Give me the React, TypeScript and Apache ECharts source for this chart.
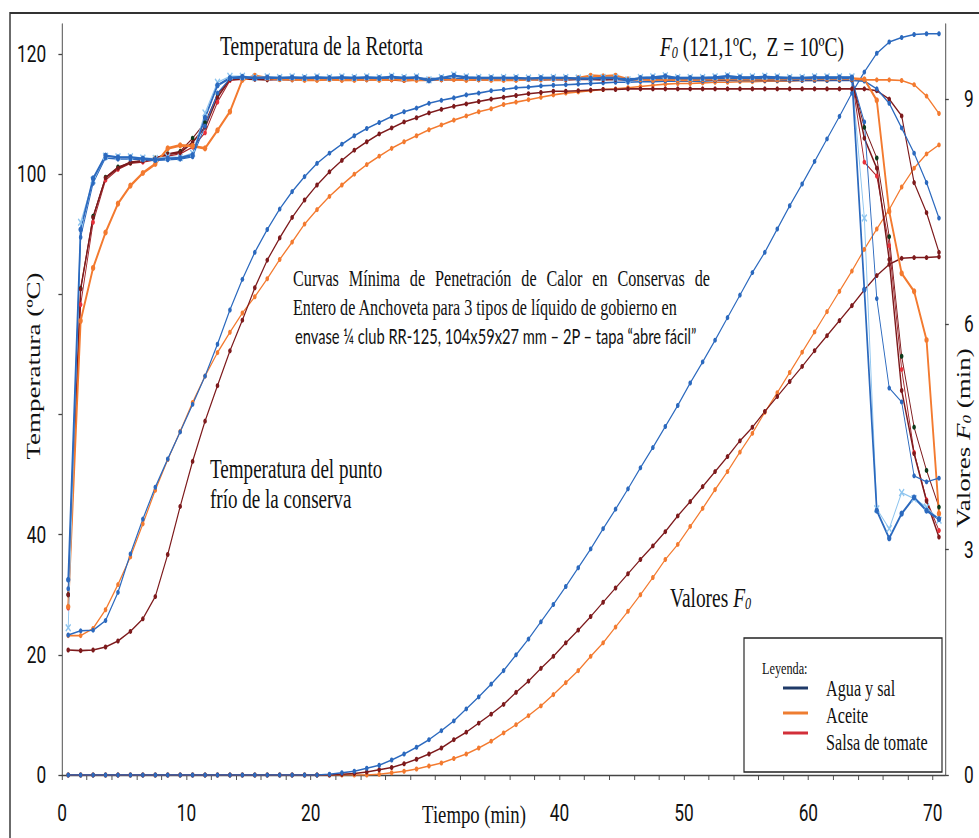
import React, { useEffect, useRef } from 'react';
import * as echarts from 'echarts';

// The reference picture is horizontally condensed; the chart is drawn wider and squeezed.
const SQ = 0.72;
const W = 979;
const H = 838;
const CW = W / SQ;
const rx = (x: number) => x / SQ;

// ---------- data ----------
const TIME = [
  0.5, 1.5, 2.5, 3.5, 4.5, 5.5, 6.5, 7.5, 8.5, 9.5,
  10.5, 11.5, 12.5, 13.5, 14.5, 15.5, 16.5, 17.5, 18.5, 19.5,
  20.5, 21.5, 22.5, 23.5, 24.5, 25.5, 26.5, 27.5, 28.5, 29.5,
  30.5, 31.5, 32.5, 33.5, 34.5, 35.5, 36.5, 37.5, 38.5, 39.5,
  40.5, 41.5, 42.5, 43.5, 44.5, 45.5, 46.5, 47.5, 48.5, 49.5,
  50.5, 51.5, 52.5, 53.5, 54.5, 55.5, 56.5, 57.5, 58.5, 59.5,
  60.5, 61.5, 62.5, 63.5, 64.5, 65.5, 66.5, 67.5, 68.5, 69.5,
  70.5,
];
const T_HEAT = [0.5, 1.5, 2.5, 3.5, 4.5, 5.5, 6.5, 7.5, 8.5, 9.5, 10.5, 11.5, 12.5, 13.5, 14.5];
const T_COOL = [63.5, 64.5, 65.5, 66.5, 67.5, 68.5, 69.5, 70.5];

// F0 values (min)
const F0_AGUA = [
  0, 0, 0, 0, 0, 0, 0, 0, 0, 0,
  0, 0, 0, 0, 0, 0, 0, 0, 0, 0,
  0, 0.01, 0.03, 0.05, 0.09, 0.13, 0.2, 0.28, 0.37, 0.47,
  0.59, 0.72, 0.88, 1.04, 1.21, 1.39, 1.6, 1.81, 2.04, 2.27,
  2.51, 2.76, 3.01, 3.28, 3.54, 3.81, 4.09, 4.36, 4.64, 4.92,
  5.22, 5.5, 5.79, 6.09, 6.39, 6.69, 6.96, 7.27, 7.58, 7.87,
  8.17, 8.47, 8.77, 9.08, 9.36, 9.61, 9.76, 9.82, 9.86, 9.87,
  9.87,
];
const F0_SALSA = [
  0, 0, 0, 0, 0, 0, 0, 0, 0, 0,
  0, 0, 0, 0, 0, 0, 0, 0, 0, 0,
  0, 0, 0.01, 0.02, 0.04, 0.07, 0.1, 0.15, 0.21, 0.28,
  0.36, 0.47, 0.57, 0.69, 0.81, 0.94, 1.1, 1.25, 1.42, 1.58,
  1.76, 1.93, 2.11, 2.3, 2.49, 2.68, 2.87, 3.05, 3.24, 3.45,
  3.64, 3.84, 4.04, 4.24, 4.45, 4.63, 4.84, 5.04, 5.24, 5.44,
  5.65, 5.85, 6.05, 6.25, 6.46, 6.65, 6.8, 6.88, 6.89, 6.89,
  6.9,
];
const F0_ACEITE = [
  0, 0, 0, 0, 0, 0, 0, 0, 0, 0,
  0, 0, 0, 0, 0, 0, 0, 0, 0, 0,
  0, 0, 0, 0, 0, 0.01, 0.03, 0.05, 0.08, 0.12,
  0.16, 0.22, 0.28, 0.36, 0.45, 0.56, 0.67, 0.79, 0.92, 1.07,
  1.23, 1.39, 1.58, 1.76, 1.97, 2.18, 2.4, 2.63, 2.87, 3.07,
  3.31, 3.55, 3.8, 4.04, 4.3, 4.55, 4.83, 5.09, 5.36, 5.63,
  5.9, 6.17, 6.44, 6.71, 7.0, 7.27, 7.53, 7.83, 8.08, 8.27,
  8.39,
];

// Cold point temperatures (ºC)
const COLD_AGUA = [
  23.3, 24.0, 24.1, 25.7, 30.4, 36.8, 42.6, 47.9, 52.6, 57.1,
  61.7, 66.4, 71.7, 77.4, 82.5, 87.0, 90.8, 94.2, 97.1, 99.6,
  101.8, 103.5, 105.0, 106.4, 107.6, 108.6, 109.6, 110.4, 111.0, 111.8,
  112.3, 112.7, 113.2, 113.5, 113.9, 114.1, 114.4, 114.5, 114.7, 114.8,
  114.9, 115.0, 115.1, 115.2, 115.3, 115.3, 115.4, 115.4, 115.5, 115.5,
  115.5, 115.5, 115.6, 115.6, 115.6, 115.6, 115.6, 115.6, 115.6, 115.6,
  115.6, 115.6, 115.6, 115.6, 115.5, 114.2, 111.8, 107.7, 103.5, 98.6,
  92.7,
];
const COLD_SALSA = [
  20.8, 20.7, 20.8, 21.3, 22.3, 23.9, 26.0, 29.7, 36.7, 44.7,
  52.2, 58.9, 64.8, 70.6, 75.7, 81.1, 85.7, 89.4, 92.8, 95.7,
  98.2, 100.4, 102.3, 104.0, 105.4, 106.7, 107.7, 108.7, 109.4, 110.2,
  110.8, 111.3, 111.7, 112.1, 112.5, 112.8, 113.1, 113.4, 113.6, 113.8,
  113.8, 113.9, 114.0, 114.1, 114.1, 114.2, 114.2, 114.2, 114.2, 114.2,
  114.2, 114.2, 114.2, 114.2, 114.2, 114.2, 114.2, 114.2, 114.2, 114.2,
  114.2, 114.2, 114.2, 114.2, 114.2, 113.9, 112.5, 109.7, 98.6, 93.6,
  87.0,
];
const COLD_ACEITE = [
  23.2, 23.2, 24.4, 27.5, 31.7, 36.3, 41.8, 47.4, 52.5, 57.2,
  62.0, 66.4, 70.3, 73.7, 76.9, 79.6, 82.6, 85.8, 88.7, 91.7,
  94.1, 96.3, 98.2, 100.0, 101.6, 103.0, 104.3, 105.4, 106.4, 107.4,
  108.2, 109.0, 109.7, 110.4, 110.9, 111.6, 112.0, 112.4, 112.8, 113.2,
  113.5, 113.7, 113.9, 114.1, 114.2, 114.4, 114.6, 114.8, 115.0, 115.1,
  115.1, 115.2, 115.3, 115.3, 115.4, 115.4, 115.5, 115.5, 115.5, 115.6,
  115.6, 115.6, 115.7, 115.7, 115.7, 115.7, 115.7, 115.6, 114.9, 113.0,
  110.1,
];

// Retort temperatures (ºC)
const RET_AGUA = [
  32.5, 90.8, 99.3, 103.1, 102.8, 102.8, 102.6, 102.4, 102.6, 102.7,
  103.2, 109.4, 114.8, 116.0, 116.2, 116.0, 116.1, 116.0, 116.1, 116.0,
  116.1, 116.0, 116.1, 116.0, 116.1, 116.0, 116.2, 116.0, 116.1, 115.6,
  116.0, 116.4, 116.1, 116.0, 116.0, 116.0, 116.0, 115.9, 116.0, 116.0,
  116.0, 115.9, 115.9, 116.0, 116.0, 115.6, 116.0, 116.1, 116.3, 116.0,
  116.0, 116.0, 116.1, 116.3, 116.1, 116.1, 116.2, 116.1, 116.0, 116.0,
  116.1, 116.1, 116.1, 116.1, 80.8, 44.0, 39.4, 43.5, 46.2, 44.0,
  42.6,
];
const RET_AGUA_X = [
  24.5, 92.0, 99.0, 103.0, 102.9, 102.9, 102.7, 102.6, 102.9, 102.8,
  103.5, 110.2, 115.3, 116.3, 116.3, 116.1, 116.2, 116.1, 116.2, 116.1,
  116.2, 116.1, 116.2, 116.1, 116.2, 116.1, 116.3, 116.1, 116.2, 115.7,
  116.1, 116.5, 116.2, 116.1, 116.1, 116.1, 116.1, 116.0, 116.1, 116.1,
  116.1, 116.0, 116.0, 116.1, 116.1, 115.7, 116.1, 116.2, 116.4, 116.1,
  116.1, 116.1, 116.2, 116.4, 116.2, 116.2, 116.3, 116.2, 116.1, 116.1,
  116.2, 116.2, 116.2, 116.2, 92.7, 44.3, 41.0, 47.0, 46.0, 44.6,
  42.4,
];
const RET_ACEITE = [
  28.0, 75.6, 84.4, 90.3, 95.1, 98.1, 100.2, 101.7, 104.3, 104.8,
  104.7, 104.3, 107.3, 110.4, 115.7, 116.4, 116.0, 115.8, 115.8, 115.7,
  115.7, 115.8, 115.7, 115.7, 115.8, 115.7, 115.8, 115.7, 115.7, 115.7,
  115.8, 115.8, 115.7, 115.8, 115.7, 115.7, 115.7, 115.8, 115.8, 115.9,
  115.9, 116.0, 116.4, 116.3, 116.4, 115.8, 115.8, 115.7, 115.8, 115.7,
  115.7, 115.8, 115.8, 115.9, 115.8, 115.8, 115.8, 115.8, 115.9, 115.9,
  115.9, 115.9, 115.9, 115.9, 115.8, 112.3, 93.8, 83.5, 80.5, 72.4,
  43.5,
];
const RET_SALSA = [
  30.0, 80.9, 92.8, 99.4, 101.0, 102.0, 102.2, 102.6, 103.3, 103.6,
  105.3, 107.8, 112.8, 115.8, 115.9, 115.8, 115.7, 115.8, 115.7, 115.8,
  115.7, 115.8, 115.7, 115.8, 115.7, 115.8, 115.7, 115.6, 115.7, 115.8,
  115.7, 115.8, 115.7, 115.7, 115.8, 115.7, 115.7, 115.8, 115.7, 115.8,
  115.7, 115.8, 115.8, 115.7, 115.8, 115.7, 115.8, 115.8, 115.8, 115.7,
  115.8, 115.8, 115.7, 115.8, 115.8, 115.8, 115.7, 115.8, 115.8, 115.8,
  115.8, 115.8, 115.8, 115.8, 106.0, 101.0, 85.8, 64.0, 53.5, 45.6,
  39.6,
];
const RET_AGUA_B_HEAT = [31.0, 89.5, 98.5, 102.7, 102.5, 102.5, 102.4, 102.3, 102.4, 102.5, 102.9, 108.0, 113.5, 115.9, 116.0];
const RET_AGUA_B_COOL = [115.9, 108.7, 79.3, 64.4, 62.1, 49.8, 48.8, 49.4];
const RET_SALSA_R_HEAT = [27.8, 78.3, 92.0, 99.0, 100.8, 101.8, 102.0, 102.4, 103.0, 103.4, 104.5, 106.9, 112.0, 115.6, 115.8];
const RET_SALSA_R_COOL = [115.8, 102.0, 99.7, 88.1, 67.5, 53.7, 45.8, 40.7];
const RET_SALSA_G_HEAT = [30.0, 81.0, 93.0, 99.5, 101.2, 101.9, 102.3, 102.7, 103.4, 103.8, 106.0, 108.6, 113.3, 115.8, 115.9];
const RET_SALSA_G_COOL = [115.8, 107.8, 102.7, 89.6, 69.7, 57.9, 50.7, 44.6];

// Axis ticks / labels
const X_TICKS = [0, 2, 4, 6, 8, 10, 12, 14, 16, 18, 20, 22, 24, 26, 28, 30, 32, 34, 36, 38, 40, 42, 44, 46, 48, 50, 52, 54, 56, 58, 60, 62, 64, 66, 68, 70];
const X_LABELS = [0, 10, 20, 40, 50, 60, 70];
const YL_TICKS = [0, 20, 40, 60, 80, 100, 120];
const YL_LABELS = [0, 20, 40, 100, 120];
const YR_TICKS = [0, 3, 6, 9];
const YR_LABELS = [0, 3, 6, 9];

const LEGEND_NAMES = ['Agua y sal', 'Aceite', 'Salsa de tomate'];
const LEGEND_COLORS = ['#1f3a68', '#ee7d31', '#d22f39'];

// ---------- styles ----------
const BLUE = '#2b69be';
const LBLUE = '#8ec5ef';
const DRED = '#7d1a1c';
const ORANGE = '#f37a2f';
const RED = '#e8303a';
const DGREEN = '#0c3a1a';
const SERIF = '"Liberation Serif", "Times New Roman", serif';
const SANS = 'Lato, "Noto Sans", sans-serif';
const XMARK = 'path://M0,1.5L1.5,0L5,3.5L8.5,0L10,1.5L6.5,5L10,8.5L8.5,10L5,6.5L1.5,10L0,8.5L3.5,5Z';

let measureCtx: CanvasRenderingContext2D | null = null;
function measure(text: string, size: number, family: string, style = 'normal') {
  if (!measureCtx) measureCtx = document.createElement('canvas').getContext('2d');
  if (!measureCtx) return text.length * size * 0.45;
  measureCtx.font = `${style} ${size}px ${family}`;
  return measureCtx.measureText(text).width;
}

const pairs = (ts: number[], vs: number[]) => ts.map((t, i) => [t, vs[i]]);

function lineSeries(name: string, data: number[][], color: string, width: number, opt: any = {}) {
  return {
    type: 'line',
    name,
    data,
    yAxisIndex: opt.yAxisIndex ?? 0,
    symbol: opt.symbol ?? 'circle',
    symbolSize: opt.symbolSize ?? 5,
    showSymbol: true,
    lineStyle: { color, width },
    itemStyle: { color: opt.markerColor ?? color },
    z: opt.z ?? 2,
    silent: true,
    animation: false,
  };
}

function txt(text: string, x: number, y: number, size: number, opt: any = {}) {
  const align = opt.align ?? 'left';
  return {
    type: 'text',
    x,
    y,
    rotation: opt.rotation ?? 0,
    scaleX: opt.scaleX ?? 1,
    z: 100,
    style: {
      text,
      fill: '#111',
      fontSize: size,
      fontFamily: opt.family ?? SERIF,
      fontStyle: opt.fontStyle ?? 'normal',
      textAlign: align,
      align,
      textVerticalAlign: 'middle',
      verticalAlign: 'middle',
      rich: opt.rich,
    },
  };
}

export default function App() {
  const ref = useRef<HTMLDivElement>(null);

  useEffect(() => {
    if (!ref.current) return;
    const chart = echarts.init(ref.current, null, { renderer: 'svg' });

    const fit = (text: string, size: number, family: string, realWidth: number) => {
      const w = measure(text, size, family);
      const s = rx(realWidth) / w;
      return Math.max(0.75, Math.min(1.3, s));
    };

    // justified first line of the paragraph
    const P1 = ['Curvas', 'Mínima', 'de', 'Penetración', 'de', 'Calor', 'en', 'Conservas', 'de'];
    const p1Size = 22.5;
    const p1W = P1.map((w) => measure(w, p1Size, SERIF));
    const p1Left = rx(293);
    const p1Right = rx(710);
    const p1Gap = (p1Right - p1Left - p1W.reduce((a, b) => a + b, 0)) / (P1.length - 1);
    const p1Elems: any[] = [];
    let cx = p1Left;
    P1.forEach((w, i) => {
      p1Elems.push(txt(w, cx, 279, p1Size));
      cx += p1W[i] + p1Gap;
    });

    const line2 = 'Entero de Anchoveta para 3 tipos de líquido de gobierno en';
    const line3 = 'envase ¼ club RR-125, 104x59x27 mm – 2P – tapa “abre fácil”';
    const retorta = 'Temperatura de la Retorta';

    const richF = {
      i: { fontStyle: 'italic', fontSize: 27, fontFamily: SERIF, fill: '#111' },
      s: { fontStyle: 'italic', fontSize: 17, fontFamily: SERIF, fill: '#111', verticalAlign: 'bottom', lineHeight: 12 },
      n: { fontSize: 27, fontFamily: SERIF, fill: '#111' },
    };

    const legendElems: any[] = [
      {
        type: 'rect',
        shape: { x: rx(744), y: 638, width: rx(942) - rx(744), height: 134 },
        style: { fill: '#fff', stroke: '#222', lineWidth: 1.6 },
        z: 90,
      },
      txt('Leyenda:', rx(762), 668, 17),
    ];
    const legY = [688, 713, 733];
    const legTY = [689, 716, 743];
    LEGEND_NAMES.forEach((n, i) => {
      legendElems.push({
        type: 'line',
        shape: { x1: rx(783), y1: legY[i], x2: rx(808), y2: legY[i] },
        style: { stroke: LEGEND_COLORS[i], lineWidth: 3 },
        z: 95,
      });
      legendElems.push(txt(n, rx(826), legTY[i], 22.5));
    });

    const graphic: any[] = [
      {
        type: 'rect',
        shape: { x: rx(10), y: 13, width: 3000, height: 3000 },
        style: { fill: 'none', stroke: '#333', lineWidth: 2 },
        z: -10,
      },
      txt(retorta, rx(220), 46, 27, { scaleX: fit(retorta, 27, SERIF, 203) }),
      txt('{i|F}{s|0}{n| (121,1ºC,  Z = 10ºC)}', rx(660), 47, 27, { rich: richF }),
      ...p1Elems,
      txt(line2, rx(293), 308, 22.5, { scaleX: fit(line2, 22.5, SERIF, 385) }),
      txt(line3, rx(295), 336, 21, { family: SANS, scaleX: fit(line3, 21, SANS, 402) }),
      txt('Temperatura del punto', rx(210), 469, 26.5),
      txt('frío de la conserva', rx(210), 499, 26.5),
      txt('{n|Valores }{i|F}{s|0}', rx(670), 598, 27, { rich: richF }),
      txt('Temperatura (ºC)', rx(33), 366, 27, { align: 'center', rotation: Math.PI / 2 }),
      txt('Tiempo (min)', rx(474), 814, 26, { align: 'center' }),
      txt('{n|Valores }{i|F}{s|0}{n| (min)}', rx(963), 438, 27, {
        align: 'center',
        rotation: Math.PI / 2,
        rich: richF,
      }),
      ...legendElems,
    ];

    const axisLine = { show: true, lineStyle: { color: '#444', width: 1.3 } };
    const labelStyle = { color: '#111', fontFamily: 'Roboto, sans-serif', fontSize: 24 };

    const option: any = {
      animation: false,
      backgroundColor: '#fff',
      textStyle: { fontFamily: SERIF },
      grid: { left: rx(62), right: CW - rx(945), top: 24, bottom: H - 775, containLabel: false },
      xAxis: {
        type: 'value',
        min: 0,
        max: 71,
        interval: 10,
        axisLine: { ...axisLine, onZero: false },
        splitLine: { show: false },
        axisTick: { show: true, length: 5, customValues: X_TICKS, lineStyle: { color: '#444', width: 1.3 } },
        axisLabel: {
          ...labelStyle,
          margin: 26,
          customValues: X_LABELS,
          formatter: (v: number) => (X_LABELS.indexOf(v) >= 0 ? String(v) : ''),
        },
      },
      yAxis: [
        {
          type: 'value',
          position: 'left',
          min: 0,
          max: 125,
          interval: 20,
          axisLine,
          splitLine: { show: false },
          axisTick: { show: true, length: 5, customValues: YL_TICKS, lineStyle: { color: '#444', width: 1.3 } },
          axisLabel: {
            ...labelStyle,
            margin: 22,
            customValues: YL_LABELS,
            formatter: (v: number) => (YL_LABELS.indexOf(v) >= 0 ? String(v) : ''),
          },
        },
        {
          type: 'value',
          position: 'right',
          min: 0,
          max: 10,
          interval: 3,
          axisLine,
          splitLine: { show: false },
          axisTick: { show: true, length: 5, customValues: YR_TICKS, lineStyle: { color: '#444', width: 1.3 } },
          axisLabel: {
            ...labelStyle,
            margin: 26,
            customValues: YR_LABELS,
            formatter: (v: number) => (YR_LABELS.indexOf(v) >= 0 ? String(v) : ''),
          },
        },
      ],
      series: [
        lineSeries('F0 Aceite', pairs(TIME, F0_ACEITE), ORANGE, 1.5, { yAxisIndex: 1, symbolSize: 5 }),
        lineSeries('F0 Salsa de tomate', pairs(TIME, F0_SALSA), DRED, 1.5, { yAxisIndex: 1, symbolSize: 5 }),
        lineSeries('F0 Agua y sal', pairs(TIME, F0_AGUA), BLUE, 1.5, { yAxisIndex: 1, symbolSize: 5 }),
        lineSeries('Punto frío Aceite', pairs(TIME, COLD_ACEITE), ORANGE, 1.6, { symbolSize: 5 }),
        lineSeries('Punto frío Salsa de tomate', pairs(TIME, COLD_SALSA), DRED, 1.6, { symbolSize: 5 }),
        lineSeries('Punto frío Agua y sal', pairs(TIME, COLD_AGUA), BLUE, 1.6, { symbolSize: 5 }),
        lineSeries('Retorta Salsa 2', pairs(T_HEAT, RET_SALSA_R_HEAT).concat(pairs(T_COOL, RET_SALSA_R_COOL)), '#a5252b', 1.3, { markerColor: RED, symbolSize: 5 }),
        lineSeries('Retorta Salsa 3', pairs(T_HEAT, RET_SALSA_G_HEAT).concat(pairs(T_COOL, RET_SALSA_G_COOL)), DRED, 1.3, { markerColor: DGREEN, symbolSize: 5 }),
        lineSeries('Retorta Salsa de tomate', pairs(TIME, RET_SALSA), DRED, 2, { symbolSize: 5 }),
        lineSeries('Retorta Aceite', pairs(TIME, RET_ACEITE), ORANGE, 2.6, { symbolSize: 6 }),
        lineSeries('Retorta Agua y sal 2', pairs(TIME, RET_AGUA_X), LBLUE, 1.3, { symbol: XMARK, symbolSize: 8 }),
        lineSeries('Retorta Agua y sal 3', pairs(T_HEAT, RET_AGUA_B_HEAT).concat(pairs(T_COOL, RET_AGUA_B_COOL)), BLUE, 1.3, { symbolSize: 5 }),
        lineSeries('Retorta Agua y sal', pairs(TIME, RET_AGUA), BLUE, 2.4, { symbolSize: 6 }),
      ],
      graphic,
    };

    chart.setOption(option);
    return () => chart.dispose();
  }, []);

  return (
    <div
      style={{
        position: 'fixed',
        left: 0,
        top: 0,
        width: W,
        height: H,
        overflow: 'hidden',
        background: '#fff',
      }}
    >
      <div
        ref={ref}
        style={{ width: CW, height: H, transform: `scaleX(${SQ})`, transformOrigin: '0 0' }}
      />
    </div>
  );
}
